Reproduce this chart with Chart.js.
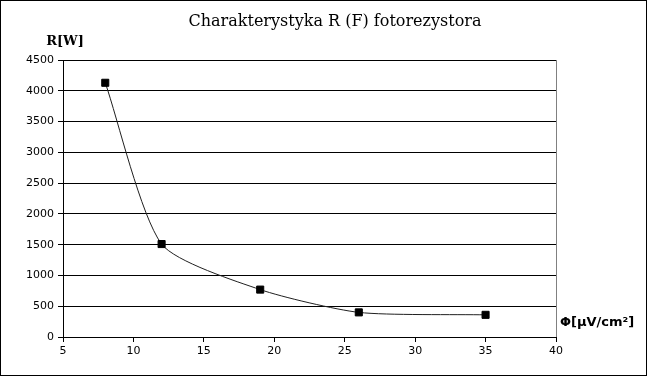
<!DOCTYPE html>
<html>
<head>
<meta charset="utf-8">
<script src="https://cdn.jsdelivr.net/npm/chart.js@4/dist/chart.umd.min.js"></script>
<style>
  html, body { margin: 0; padding: 0; background: #fff; }
  #wrap { width: 647px; height: 376px; position: relative; }
</style>
</head>
<body>
<div id="wrap"><canvas id="c" width="647" height="376"></canvas></div>
<script>
const chartTitle = 'Charakterystyka R (F) fotorezystora';
const yTitle = 'R[W]';
const xTitle = 'Φ[μV/cm²]';
const phi = [8, 12, 19, 26, 35];
const resistance = [4130, 1510, 770, 400, 360];
const xTicks = [5, 10, 15, 20, 25, 30, 35, 40];
const yTicks = [0, 500, 1000, 1500, 2000, 2500, 3000, 3500, 4000, 4500];

const points = phi.map((x, i) => ({ x: x, y: resistance[i] }));

const decor = {
  id: 'decor',
  beforeDraw(chart) {
    const ctx = chart.ctx;
    ctx.save();
    ctx.fillStyle = '#fff';
    ctx.fillRect(0, 0, chart.width, chart.height);
    ctx.restore();
  },
  afterDraw(chart) {
    const ctx = chart.ctx;
    const a = chart.chartArea;
    ctx.save();
    ctx.strokeStyle = '#808080';
    ctx.lineWidth = 1;
    ctx.beginPath();
    ctx.moveTo(Math.round(a.right) + 0.5, a.top);
    ctx.lineTo(Math.round(a.right) + 0.5, a.bottom);
    ctx.stroke();
    ctx.strokeStyle = '#000';
    ctx.strokeRect(0.5, 0.5, chart.width - 1, chart.height - 1);
    ctx.fillStyle = '#000';
    ctx.textBaseline = 'middle';
    ctx.textAlign = 'center';
    ctx.font = '16px "DejaVu Serif"';
    ctx.fillText(chartTitle, 335, 22);
    ctx.font = 'bold 13px "DejaVu Serif"';
    ctx.fillText(yTitle, 65, 42);
    ctx.textAlign = 'left';
    ctx.font = 'bold 13px "DejaVu Sans"';
    ctx.fillText(xTitle, 560, 323);
    ctx.restore();
  }
};

new Chart(document.getElementById('c'), {
  type: 'scatter',
  data: {
    datasets: [{
      data: points,
      showLine: true,
      tension: 0.22,
      borderColor: '#202020',
      borderWidth: 1,
      pointStyle: 'rect',
      pointRadius: 5,
      pointBorderWidth: 1,
      pointBackgroundColor: '#000',
      pointBorderColor: '#000'
    }]
  },
  options: {
    responsive: false,
    animation: false,
    devicePixelRatio: 1,
    layout: { padding: { left: 0, right: 91, top: 60, bottom: 0 } },
    plugins: { legend: { display: false }, tooltip: { enabled: false }, title: { display: false } },
    scales: {
      x: {
        type: 'linear',
        min: 5, max: 40,
        afterBuildTicks(scale) { scale.ticks = xTicks.map(v => ({ value: v })); },
        afterFit(scale) { scale.height = 39; },
        ticks: { color: '#000', font: { family: 'DejaVu Sans', size: 11 }, padding: 3, maxRotation: 0, callback: v => String(v) },
        grid: { drawOnChartArea: false, drawTicks: true, tickLength: 5, color: '#000' },
        border: { display: true, color: '#000', width: 1 }
      },
      y: {
        type: 'linear',
        min: 0, max: 4500,
        afterBuildTicks(scale) { scale.ticks = yTicks.map(v => ({ value: v })); },
        afterFit(scale) { scale.width = 63; },
        ticks: { color: '#000', font: { family: 'DejaVu Sans', size: 11 }, padding: 4, callback: v => String(v) },
        grid: { drawOnChartArea: true, drawTicks: true, tickLength: 5, color: '#000', lineWidth: 1 },
        border: { display: true, color: '#000', width: 1 }
      }
    }
  },
  plugins: [decor]
});
</script>
</body>
</html>
